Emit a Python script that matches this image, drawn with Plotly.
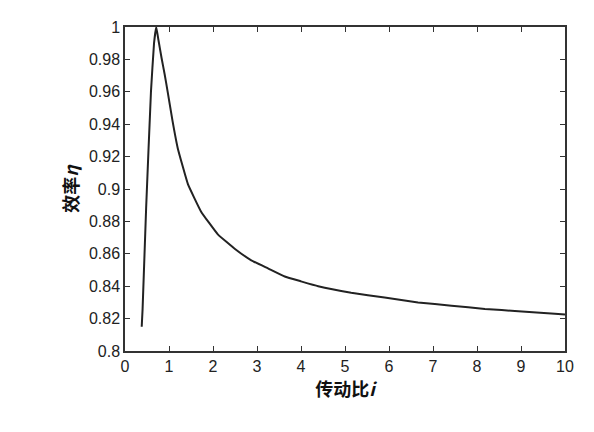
import plotly.graph_objects as go

# 传动比 i 与效率 η
ratio = [0.38, 0.40, 0.48, 0.59, 0.66, 0.71, 0.76, 0.83, 0.90, 0.97, 1.08, 1.20, 1.43, 1.73,
         2.11, 2.50, 2.87, 3.25, 3.63, 4.00, 4.39, 5.14, 5.90, 6.66, 7.42, 8.18, 8.94, 9.77, 10.0]
efficiency = [0.815, 0.826, 0.888, 0.960, 0.990, 1.000, 0.992, 0.981, 0.971, 0.960, 0.942,
              0.925, 0.903, 0.886, 0.872, 0.863, 0.856, 0.851, 0.846, 0.843, 0.840, 0.836,
              0.833, 0.830, 0.828, 0.826, 0.8245, 0.823, 0.8225]

x_ticks = list(range(0, 11))
y_ticks = [0.8, 0.82, 0.84, 0.86, 0.88, 0.9, 0.92, 0.94, 0.96, 0.98, 1]

fig = go.Figure(go.Scatter(x=ratio, y=efficiency, mode="lines",
                           line=dict(color="#222", width=2, shape="spline", smoothing=0.3)))

axis_style = dict(showline=True, linecolor="#333", linewidth=1.5, mirror="ticks",
                  ticks="inside", ticklen=5, tickcolor="#333", showgrid=False, zeroline=False,
                  tickfont=dict(family="Liberation Sans", size=16, color="#222"))

title_font = dict(family="Noto Sans CJK SC", size=18, color="#111", weight="bold")

fig.update_xaxes(range=[0, 10], tickvals=x_ticks, **axis_style,
                 title=dict(text="传动比<i>i</i>", standoff=8, font=title_font))
fig.update_yaxes(range=[0.8, 1], tickvals=y_ticks, ticktext=[str(v) for v in y_ticks],
                 **axis_style,
                 title=dict(text="效率<i>η</i>", standoff=6, font=title_font))

fig.update_layout(width=594, height=432, margin=dict(l=117, r=37, t=19, b=89),
                  plot_bgcolor="white", paper_bgcolor="white", showlegend=False)

fig.write_html("out.html")
